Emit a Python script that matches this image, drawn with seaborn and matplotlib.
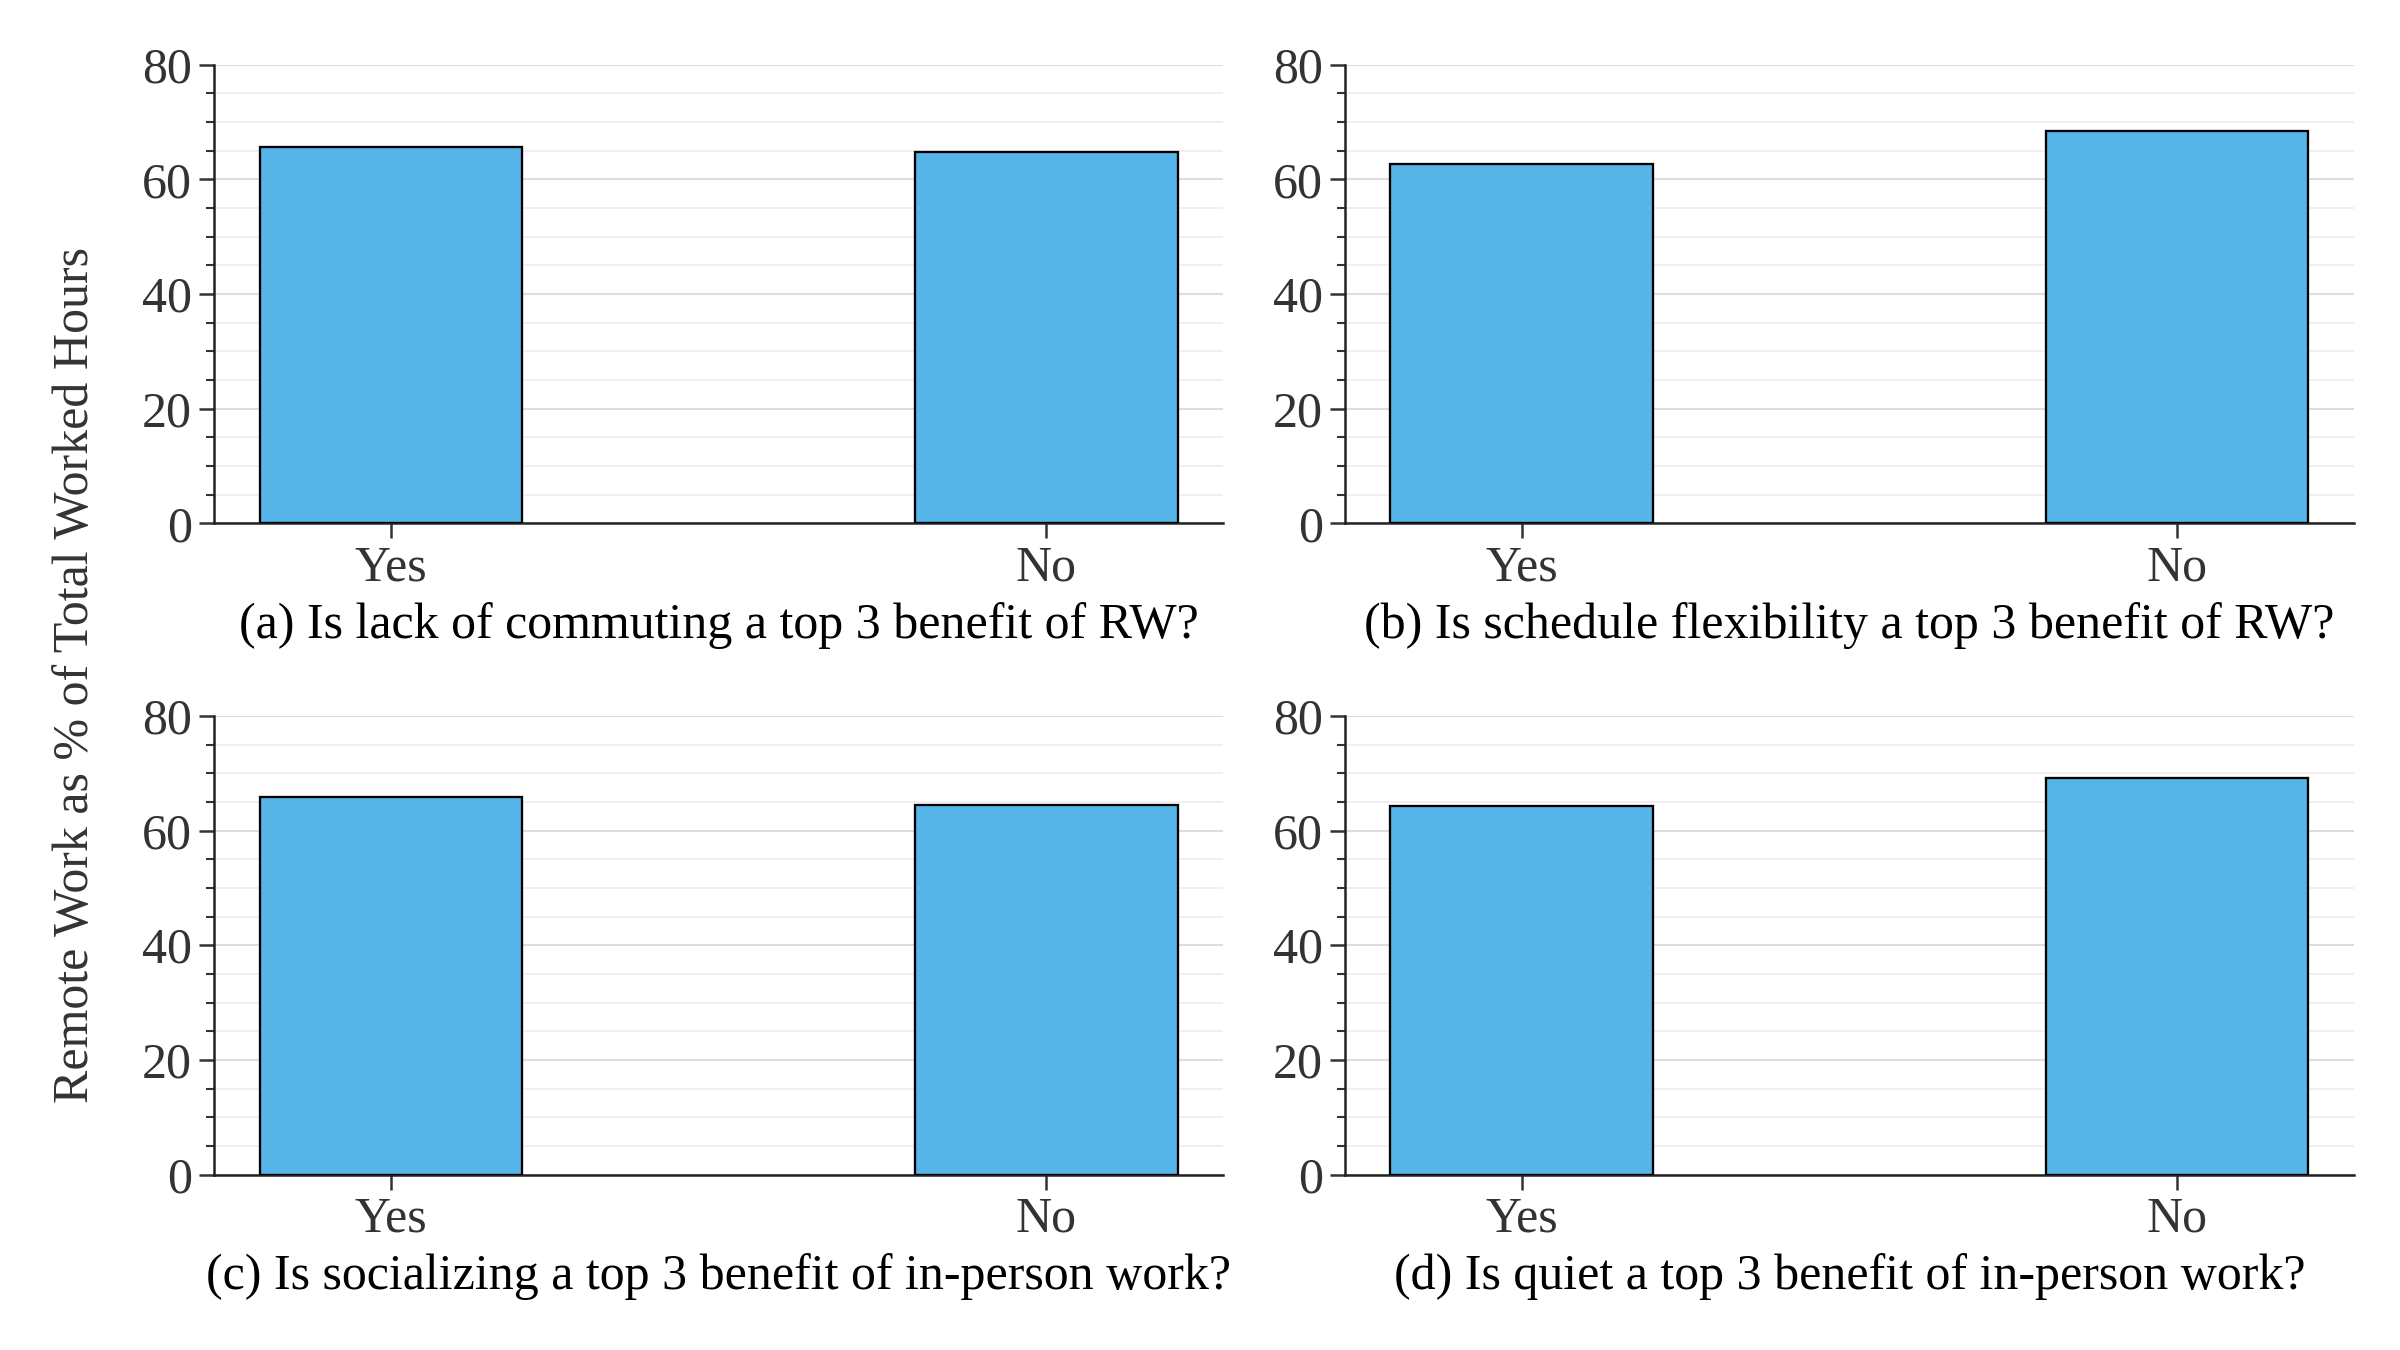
import pandas as pd
import seaborn as sns
import matplotlib.pyplot as plt
from matplotlib.ticker import MultipleLocator

# Survey answers and remote work share (%)
answers = ['Yes', 'No']
lack_commute = [65.6, 64.7]
schedule_flex = [62.7, 68.5]
socializing = [65.9, 64.4]
quiet = [64.3, 69.2]

captions = [
    '(a) Is lack of commuting a top 3 benefit of RW?',
    '(b) Is schedule flexibility a top 3 benefit of RW?',
    '(c) Is socializing a top 3 benefit of in-person work?',
    '(d) Is quiet a top 3 benefit of in-person work?',
]
series = [lack_commute, schedule_flex, socializing, quiet]

sns.set_theme(style='ticks')
plt.rcParams['font.family'] = 'serif'
plt.rcParams['font.serif'] = ['Liberation Serif', 'Times New Roman', 'DejaVu Serif']
plt.rcParams['text.color'] = '#222222'

fig, axes = plt.subplots(2, 2, figsize=(16, 9), dpi=150)
fig.subplots_adjust(left=0.089, right=0.981, top=0.952, bottom=0.13, wspace=0.12, hspace=0.42)

for ax, vals, cap in zip(axes.flat, series, captions):
    d = pd.DataFrame({'answer': answers, 'share': vals})
    sns.barplot(data=d, x='answer', y='share', color='#56B4E9', width=0.4,
                edgecolor='black', linewidth=1.1, saturation=1, ax=ax, zorder=3)
    ax.set_xlim(-0.27, 1.27)
    ax.set_ylim(0, 80)
    ax.yaxis.set_major_locator(MultipleLocator(20))
    ax.yaxis.set_minor_locator(MultipleLocator(5))
    ax.grid(axis='y', which='major', color='#dddddd', lw=1.0, zorder=0)
    ax.grid(axis='y', which='minor', color='#efefef', lw=0.9, zorder=0)
    ax.set_axisbelow(True)
    sns.despine(ax=ax)
    for s in ['left', 'bottom']:
        ax.spines[s].set_color('#222222')
        ax.spines[s].set_linewidth(1.2)
    ax.tick_params(axis='both', which='major', labelsize=24, length=7, width=1.2,
                   color='#333333', labelcolor='#333333')
    ax.tick_params(axis='y', which='minor', length=4, width=1.0, color='#333333')
    ax.set_xlabel(cap, fontsize=24, color='black', labelpad=5)
    ax.set_ylabel('')

fig.supylabel('Remote Work as % of Total Worked Hours', fontsize=24, color='#333333', x=0.022)

plt.savefig('out.png', dpi=150)
